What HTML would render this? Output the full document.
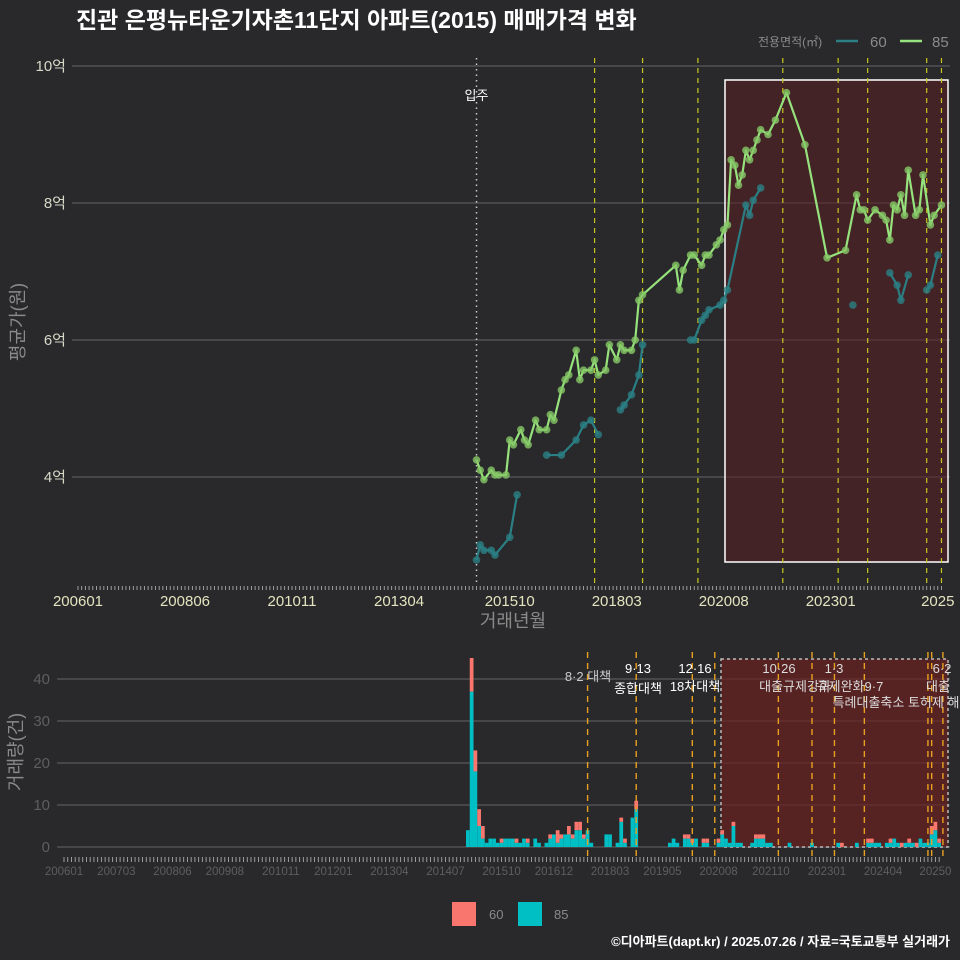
<!DOCTYPE html>
<html><head><meta charset="utf-8">
<style>
html,body{margin:0;padding:0;background:#282829;}
svg{display:block;font-family:"Liberation Sans","Noto Sans CJK KR",sans-serif;}
</style></head>
<body>
<svg id="c" width="960" height="960" viewBox="0 0 960 960">
<rect x="0" y="0" width="960" height="960" fill="#29292b"/>
<text x="76" y="28" fill="#ffffff" font-size="23" font-weight="bold">진관 은평뉴타운기자촌11단지 아파트(2015) 매매가격 변화</text>
<g>
<text x="758" y="46" fill="#8a8a8a" font-size="12">전용면적(㎡)</text>
<line x1="836" y1="41" x2="858" y2="41" stroke="#2a7f85" stroke-width="2.5"/>
<text x="870" y="47" fill="#8a8a8a" font-size="15">60</text>
<line x1="900" y1="41" x2="922" y2="41" stroke="#96e27c" stroke-width="2.5"/>
<text x="932" y="47" fill="#8a8a8a" font-size="15">85</text>
</g>
<g id="main"></g>
<g id="bottom"></g>
<g>
<rect x="452" y="902" width="24" height="24" fill="#f8766d"/>
<text x="489" y="919" fill="#8a8a8a" font-size="13">60</text>
<rect x="518" y="902" width="24" height="24" fill="#00bfc4"/>
<text x="554" y="919" fill="#8a8a8a" font-size="13">85</text>
</g>
<text x="950" y="946" fill="#ffffff" font-size="13" font-weight="bold" text-anchor="end">©디아파트(dapt.kr) / 2025.07.26 / 자료=국토교통부 실거래가</text>
</svg>
<script>
// ---- data ----
const priceDates85 = ['2015-01','2015-02','2015-03','2015-05','2015-06','2015-07','2015-09','2015-10','2015-11','2016-01','2016-02','2016-03','2016-05','2016-06','2016-08','2016-09','2016-10','2016-12','2017-01','2017-02','2017-04','2017-05','2017-06','2017-08','2017-09','2017-10','2017-12','2018-01','2018-03','2018-04','2018-05','2018-07','2018-08','2018-09','2018-10','2019-07','2019-08','2019-09','2019-11','2019-12','2020-02','2020-03','2020-04','2020-06','2020-07','2020-08','2020-09','2020-10','2020-11','2020-12','2021-01','2021-02','2021-03','2021-04','2021-05','2021-06','2021-08','2021-10','2022-01','2022-06','2022-12','2023-05','2023-08','2023-09','2023-10','2023-11','2024-01','2024-03','2024-04','2024-05','2024-06','2024-07','2024-08','2024-09','2024-10','2024-12','2025-01','2025-02','2025-04','2025-05','2025-07'];
const priceValues85 = [4.25,4.10,3.96,4.10,4.03,4.03,4.03,4.54,4.47,4.69,4.54,4.47,4.83,4.69,4.69,4.91,4.83,5.27,5.42,5.49,5.85,5.42,5.56,5.56,5.71,5.49,5.56,5.93,5.71,5.93,5.85,5.85,6.0,6.58,6.66,7.09,6.73,7.02,7.24,7.24,7.09,7.24,7.24,7.39,7.46,7.61,7.68,8.63,8.55,8.26,8.41,8.77,8.63,8.77,8.92,9.07,9.0,9.21,9.61,8.85,7.2,7.31,8.12,7.9,7.9,7.75,7.9,7.82,7.75,7.46,7.97,7.9,8.12,7.82,8.48,7.82,7.9,8.41,7.68,7.82,7.97];
const priceDates60 = ['2015-01','2015-02','2015-03','2015-05','2015-06','2015-10','2015-12',null,'2016-08','2016-12','2017-04','2017-06','2017-08','2017-10',null,'2018-04','2018-05','2018-07','2018-09','2018-10',null,'2019-11','2019-12','2020-02','2020-03','2020-04','2020-07','2020-08','2020-09','2021-02','2021-03','2021-04','2021-06',null,'2023-07',null,'2024-05','2024-07','2024-08','2024-10',null,'2025-03','2025-04','2025-06'];
const priceValues60 = [2.79,3.01,2.93,2.93,2.86,3.12,3.74,null,4.32,4.32,4.54,4.76,4.83,4.62,null,4.98,5.05,5.2,5.49,5.93,null,6.0,6.0,6.29,6.36,6.44,6.51,6.58,6.73,7.97,7.82,8.04,8.22,null,6.51,null,6.98,6.8,6.58,6.95,null,6.73,6.8,7.24];
const yTicksMain = [4,6,8,10];
const yTickLabelsMain = ['4억','6억','8억','10억'];
const xTickLabelsMain = ['200601','200806','201011','201304','201510','201803','202008','202301','2025'];
const xTickDatesMain = ['2006-01','2008-06','2010-11','2013-04','2015-10','2018-03','2020-08','2023-01','2025-06'];
const policyDatesMain = ['2017-09','2018-10','2020-01','2021-12','2023-03','2023-11','2025-03','2025-07'];
const volMonths = [];
for (let y=2015;y<=2025;y++) for (let m=1;m<=12;m++){ if (y===2025 && m>7) break; volMonths.push(y+'-'+String(m).padStart(2,'0')); }
const vol85 = [4,37,18,5,2,1,2,2,1,1,2,2, 2,1,1,2,1,0,2,1,0,1,2,3, 1,2,3,3,2,4,4,2,4,1,0,0, 0,3,3,0,1,6,1,0,7,9,0,0, 0,0,0,0,0,0,1,2,1,0,2,2, 1,2,0,1,1,0,0,1,3,2,1,5, 1,1,0,0,1,2,2,2,1,1,0,0, 0,0,1,0,0,0,0,0,1,0,0,0, 0,0,0,1,0,0,0,0,1,0,0,1, 1,1,1,0,1,1,2,1,0,1,1,1, 0,2,1,1,3,4,1];
const vol60 = [0,8,5,4,3,0,0,0,0,1,0,0, 0,1,0,0,1,0,0,0,0,0,1,0, 3,1,0,2,1,2,2,1,0,0,0,0, 0,0,0,0,0,1,1,0,0,2,0,0, 0,0,0,0,0,0,0,0,0,0,1,1, 1,0,0,1,1,0,0,1,1,0,0,1, 0,0,0,0,0,1,1,1,0,0,0,0, 0,0,0,0,0,0,0,0,0,0,0,0, 0,0,0,0,1,0,0,0,0,0,0,1, 1,0,0,0,0,1,0,0,1,0,1,0, 1,0,0,0,2,2,1];
const yTicksVol = [0,10,20,30,40];
const xTickLabelsVol = ['200601','200703','200806','200908','201011','201201','201304','201407','201510','201612','201803','201905','202008','202110','202301','202404','20250'];
const xTickDatesVol = ['2006-01','2007-03','2008-06','2009-08','2010-11','2012-01','2013-04','2014-07','2015-10','2016-12','2018-03','2019-05','2020-08','2021-10','2023-01','2024-04','2025-06'];
const policyDatesVol = ['2017-09','2018-10','2020-01','2020-07','2021-12','2022-09','2023-03','2023-11','2025-04','2025-05','2025-08'];

// ---- helpers ----
const NS='http://www.w3.org/2000/svg';
function mk(parent, tag, attrs){ const e=document.createElementNS(NS,tag); for(const k in attrs) e.setAttribute(k,attrs[k]); parent.appendChild(e); return e; }
function mi(d){ const [y,m]=d.split('-').map(Number); return (y-2006)*12+(m-1); }
const xM = d => 78 + mi(d)*3.69;
const yM = v => 66 + (10-v)*68.5;
const xV = d => 64 + mi(d)*3.74;
const yV = v => 847 - v*4.2;

const main=document.getElementById('main');
const bot=document.getElementById('bottom');

yTicksMain.forEach((t,i)=>{
  const g=mk(main,'line',{x1:72,x2:950,y1:yM(t),y2:yM(t),stroke:'#5a5a5c','stroke-width':1.3});
   
  const tx=mk(main,'text',{x:66,y:yM(t)+5,fill:'#d8d8c8','font-size':15,'text-anchor':'end'});
  tx.textContent=yTickLabelsMain[i];
   
});
const sh=mk(main,'rect',{x:725,y:80,width:223,height:482,fill:'#5a1f22','fill-opacity':0.55,stroke:'#ffffff','stroke-width':1.5});
 
const mv=mk(main,'line',{x1:xM('2015-01'),x2:xM('2015-01'),y1:58,y2:585,stroke:'#cccccc','stroke-width':1.5,'stroke-dasharray':'1.5 4'});
 
const mvt=mk(main,'text',{x:xM('2015-01'),y:100,fill:'#ffffff','font-size':13,'text-anchor':'middle'});
mvt.textContent='입주';
 
policyDatesMain.forEach(d=>{
  const l=mk(main,'line',{x1:xM(d),x2:xM(d),y1:58,y2:585,stroke:'#c8c81e','stroke-width':1.2,'stroke-dasharray':'5 5'});
   
});
function drawSeries(dates, vals, color, ptColor, name){
  let seg=[];
  const segs=[];
  dates.forEach((d,i)=>{ if(d===null){ if(seg.length) segs.push(seg); seg=[]; } else seg.push([xM(d),yM(vals[i])]); });
  if(seg.length) segs.push(seg);
  segs.forEach(s=>{
    if(s.length>1){
      const p=mk(main,'polyline',{points:s.map(q=>q.join(',')).join(' '),fill:'none',stroke:color,'stroke-width':2.2,'stroke-linejoin':'round'});
       
    }
    s.forEach(q=>{
      const c=mk(main,'circle',{cx:q[0],cy:q[1],r:3.8,fill:ptColor,'fill-opacity':0.8});
       
    });
  });
}
drawSeries(priceDates60, priceValues60, '#2a7f85', '#2a7f85', 'series-60');
drawSeries(priceDates85, priceValues85, '#96e27c', '#86c866', 'series-85');
for(let m=0;m<=234;m++){
  const x=78+m*3.69;
  const t=mk(main,'line',{x1:x,x2:x,y1:586,y2:590,stroke:'#aaaaaa','stroke-width':0.9});
   
}
xTickLabelsMain.forEach((lab,i)=>{
  const t=mk(main,'text',{x:xM(xTickDatesMain[i]),y:606,fill:'#e4e4c0','font-size':15,'text-anchor':'middle'});
  t.textContent=lab;
   
});
const xt=mk(main,'text',{x:513,y:627,fill:'#8a8a8a','font-size':18,'text-anchor':'middle'});
xt.textContent='거래년월';
 
const yt=mk(main,'text',{x:0,y:0,fill:'#8a8a8a','font-size':18,'text-anchor':'middle',transform:'translate(24,322) rotate(-90)'});
yt.textContent='평균가(원)';
 

// ---- bottom chart ----
yTicksVol.forEach(t=>{
  const g=mk(bot,'line',{x1:57,x2:950,y1:yV(t),y2:yV(t),stroke:'#5a5a5c','stroke-width':1.2});
   
  const tx=mk(bot,'text',{x:50,y:yV(t)+5,fill:'#5e5e5e','font-size':15,'text-anchor':'end'});
  tx.textContent=String(t);
   
});
const sh2=mk(bot,'rect',{x:721,y:659,width:227,height:188,fill:'#6a1f20','fill-opacity':0.7,stroke:'#bbbbbb','stroke-width':1.5,'stroke-dasharray':'3 3'});
 
volMonths.forEach((d,i)=>{
  const x=xV(d)-1.9;
  const h85=vol85[i]*4.2, h60=vol60[i]*4.2;
  if(vol85[i]>0){
    const r=mk(bot,'rect',{x:x,y:yV(vol85[i]),width:3.75,height:h85,fill:'#00bfc4'});
     
  }
  if(vol60[i]>0){
    const r=mk(bot,'rect',{x:x,y:yV(vol85[i]+vol60[i]),width:3.75,height:h60,fill:'#f8766d'});
     
  }
});
policyDatesVol.forEach(d=>{
  const l=mk(bot,'line',{x1:xV(d),x2:xV(d),y1:652,y2:857,stroke:'#e8a020','stroke-width':1.4,'stroke-dasharray':'6 5'});
   
});
const ann=[[588,681,'8·2 대책','#cccccc'],[638,673,'9·13','#ffffff'],[638,693,'종합대책','#ffffff'],[695,673,'12·16','#ffffff'],[695,691,'18차대책','#ffffff'],[779,673,'10·26','#dddddd'],[795,691,'대출규제강화','#dddddd'],[834,673,'1·3','#dddddd'],[850,691,'규제완화9·7','#dddddd'],[896,707,'특례대출축소 토허제 해','#dddddd'],[942,673,'6·2','#dddddd'],[938,691,'대출','#dddddd']];
ann.forEach(a=>{
  const t=mk(bot,'text',{x:a[0],y:a[1],fill:a[3],'font-size':13,'text-anchor':'middle'});
  t.textContent=a[2];
   
});
for(let m=0;m<=234;m++){
  const x=64+m*3.74;
  const t=mk(bot,'line',{x1:x,x2:x,y1:857,y2:862,stroke:'#aaaaaa','stroke-width':0.9});
   
}
xTickLabelsVol.forEach((lab,i)=>{
  const t=mk(bot,'text',{x:xV(xTickDatesVol[i]),y:875,fill:'#5e5e5e','font-size':11.5,'text-anchor':'middle'});
  t.textContent=lab;
   
});
const yt2=mk(bot,'text',{x:0,y:0,fill:'#8a8a8a','font-size':18,'text-anchor':'middle',transform:'translate(22,752) rotate(-90)'});
yt2.textContent='거래량(건)';
 
</script>
</body></html>
